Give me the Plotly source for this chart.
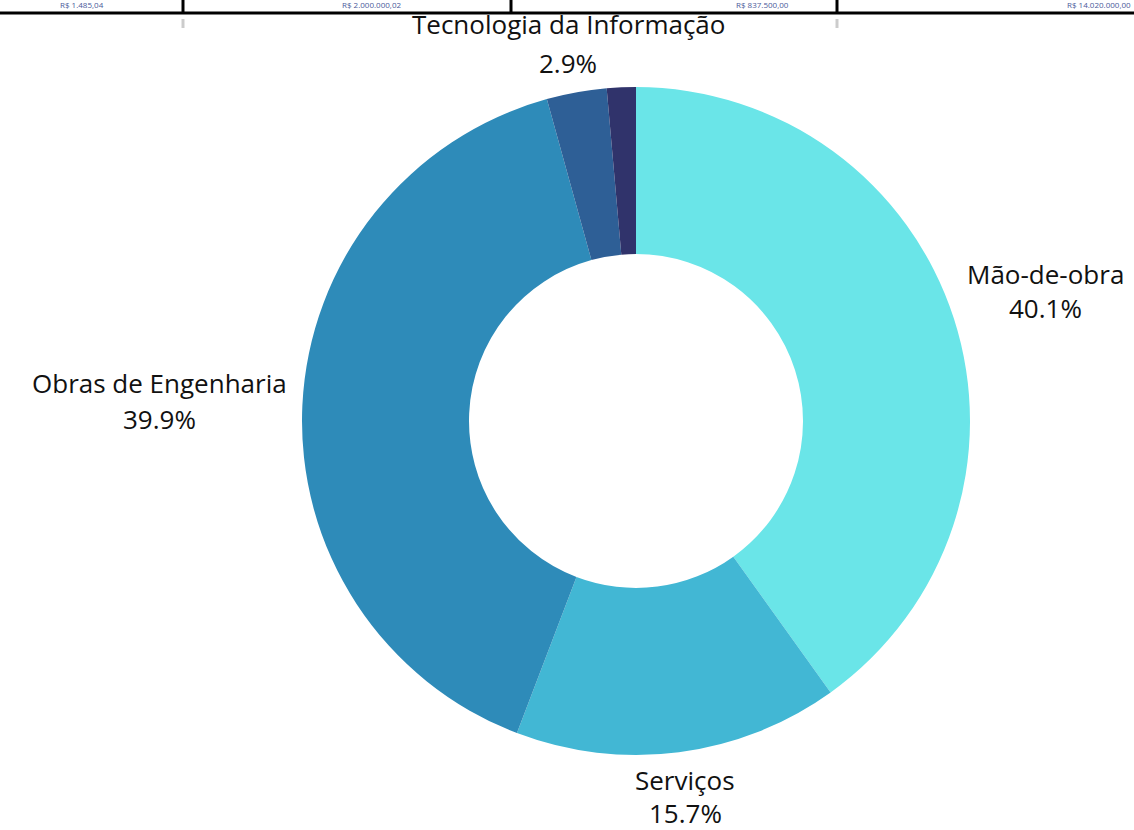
import plotly.graph_objects as go

categories = ["Mão-de-obra", "Serviços", "Obras de Engenharia", "Tecnologia da Informação", "Outros"]
values = [40.1, 15.7, 39.9, 2.9, 1.4]
colors = ["#6AE5E8", "#42B7D4", "#2E8BB9", "#2E5F96", "#30336B"]
show_label = [True, True, True, True, False]

table_texts = ["R$ 1.485,04", "R$ 2.000.000,02", "R$ 837.500,00", "R$ 14.020.000,00"]

# label placement (pixel centre x, baseline of name line, baseline of percent line)
label_pos = [(1045, 283, 317), (685, 789, 822), (159, 392, 428), (568, 33, 72), None]
# table fragment text placement (pixel x, anchor)
table_text_pos = [(105, "right"), (402, "right"), (735, "left"), (1132, "right")]

W, H = 1134, 830
ML, MR, MT, MB = 138, 0, 87, 75
PW, PH = W - ML - MR, H - MT - MB
FS = 26

def to_paper(x, y):
    return (x - ML) / PW, 1 - (y - MT) / PH

fig = go.Figure(go.Pie(
    labels=categories,
    values=values,
    hole=0.5,
    sort=False,
    direction="clockwise",
    rotation=0,
    marker=dict(colors=colors, line=dict(width=0)),
    textinfo="none",
    hoverinfo="label+percent",
    showlegend=False,
    automargin=False,
))

shapes = []
def line(x0, y0, x1, y1, color, width):
    a0, b0 = to_paper(x0, y0)
    a1, b1 = to_paper(x1, y1)
    shapes.append(dict(type="line", xref="paper", yref="paper",
                       x0=a0, y0=b0, x1=a1, y1=b1,
                       line=dict(color=color, width=width)))

# partial table fragment visible at the top of the page
line(0, 13, W, 13, "#000000", 3)
for xv in [183, 511, 837]:
    line(xv, 0, xv, 13, "#000000", 3)
for xv in [183, 837]:
    line(xv, 19, xv, 28, "#cccccc", 3)

annotations = []
for t, (xp, anc) in zip(table_texts, table_text_pos):
    ax, ay = to_paper(xp, 11)
    annotations.append(dict(text=t, xref="paper", yref="paper", x=ax, y=ay,
                            xanchor=anc, yanchor="bottom", showarrow=False,
                            borderpad=0,
                            font=dict(family="Open Sans", size=8, color="#4a5a9a")))

total = sum(values)
font = dict(family="Open Sans", size=FS, color="#111111")
for cat, v, show, pos in zip(categories, values, show_label, label_pos):
    if not show or pos is None:
        continue
    cx, b1, b2 = pos
    for txt, base in ((cat, b1), (f"{v / total * 100:.1f}%", b2)):
        ax, ay = to_paper(cx, base - 0.36 * FS)
        annotations.append(dict(text=txt, xref="paper", yref="paper", x=ax, y=ay,
                                xanchor="center", yanchor="middle", showarrow=False,
                                font=font))

fig.update_layout(
    width=W, height=H,
    margin=dict(l=ML, r=MR, t=MT, b=MB),
    paper_bgcolor="white",
    plot_bgcolor="white",
    shapes=shapes,
    annotations=annotations,
)

fig.write_html("out.html")
